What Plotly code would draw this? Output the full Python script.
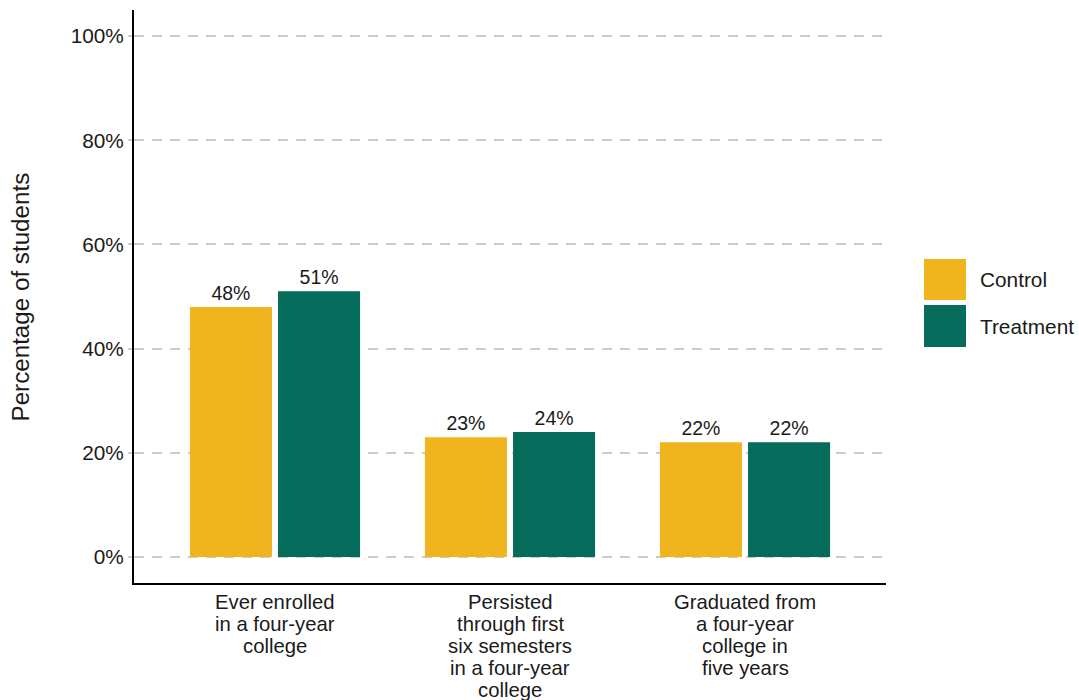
import plotly.graph_objects as go

# Outcome categories (one entry per text line) and group shares (percent of students)
categories = [
    ["Ever enrolled", "in a four-year", "college"],
    ["Persisted", "through first", "six semesters", "in a four-year", "college"],
    ["Graduated from", "a four-year", "college in", "five years"],
]
control = [48, 23, 22]
treatment = [51, 24, 22]
groups = ["Control", "Treatment"]
y_ticks = [0, 20, 40, 60, 80, 100]
y_tick_labels = ["0%", "20%", "40%", "60%", "80%", "100%"]

colors = {"Control": "#EFB41E", "Treatment": "#056B5B"}
font_family = "Liberation Sans, Arial, sans-serif"
text_color = "#1a1a1a"
positions = list(range(1, len(categories) + 1))

fig = go.Figure()
bar_width = 0.349
offsets = {"Control": -0.362, "Treatment": 0.013}
for name, vals in zip(groups, [control, treatment]):
    fig.add_trace(go.Bar(
        x=positions,
        y=vals,
        name=name,
        width=bar_width,
        offset=offsets[name],
        marker=dict(color=colors[name], line=dict(width=0)),
        text=[f"{v}%" for v in vals],
        textposition="outside",
        textfont=dict(size=19.5, color=text_color, family=font_family),
        cliponaxis=False,
        showlegend=False,
    ))

plot_left, plot_right, plot_top, plot_bottom = 134, 886, 10, 583
W, H = 1079, 700

def px_x(v):
    return (v - plot_left) / (plot_right - plot_left)

def px_y(v):
    return (plot_bottom - v) / (plot_bottom - plot_top)

shapes = []
annotations = []

# Legend drawn as large colour keys beside the plot
key_x0, key_x1 = 924, 966
key_rows = [(259, 300), (305, 347)]
for name, (r0, r1) in zip(groups, key_rows):
    shapes.append(dict(
        type="rect", xref="paper", yref="paper",
        x0=px_x(key_x0), x1=px_x(key_x1), y0=px_y(r1), y1=px_y(r0),
        fillcolor=colors[name], line=dict(width=0),
    ))
    annotations.append(dict(
        xref="paper", yref="paper", x=px_x(978), y=px_y((r0 + r1) / 2),
        text=name, showarrow=False, xanchor="left", yanchor="middle",
        font=dict(size=20.8, color=text_color, family=font_family),
    ))

# Category labels under the axis, one line per annotation for tight spacing
line_step = 22
for pos, lines in zip(positions, categories):
    for i, line in enumerate(lines):
        annotations.append(dict(
            xref="x", yref="paper", x=pos, y=0,
            text=line, showarrow=False, xanchor="center", yanchor="middle",
            yshift=-(19 + i * line_step),
            font=dict(size=20.3, color=text_color, family=font_family),
        ))

# Y-axis title
annotations.append(dict(
    xref="paper", yref="paper", x=px_x(20), y=0.5,
    text="Percentage of students", showarrow=False, textangle=-90,
    xanchor="center", yanchor="middle",
    font=dict(size=24.2, color=text_color, family=font_family),
))

fig.update_layout(
    width=W, height=H,
    margin=dict(l=plot_left, r=W - plot_right, t=plot_top, b=H - plot_bottom),
    plot_bgcolor="white", paper_bgcolor="white",
    font=dict(family=font_family, color=text_color),
    barmode="overlay",
    shapes=shapes,
    annotations=annotations,
    xaxis=dict(
        range=[0.4, 3.6],
        tickmode="array", tickvals=positions, ticktext=["" for _ in positions],
        showgrid=False, zeroline=False,
        showline=True, linecolor="black", linewidth=2,
        ticks="", ticklen=0, automargin=False,
    ),
    yaxis=dict(
        range=[-5, 105],
        tickmode="array", tickvals=y_ticks, ticktext=y_tick_labels,
        tickfont=dict(size=20.8, color=text_color),
        showgrid=True, gridcolor="#cccccc", gridwidth=2, griddash="10px,8px",
        zeroline=False,
        showline=True, linecolor="black", linewidth=2,
        ticks="outside", ticklen=4, tickcolor="#cccccc", tickwidth=2,
        automargin=False,
    ),
)

fig.write_html("out.html")
